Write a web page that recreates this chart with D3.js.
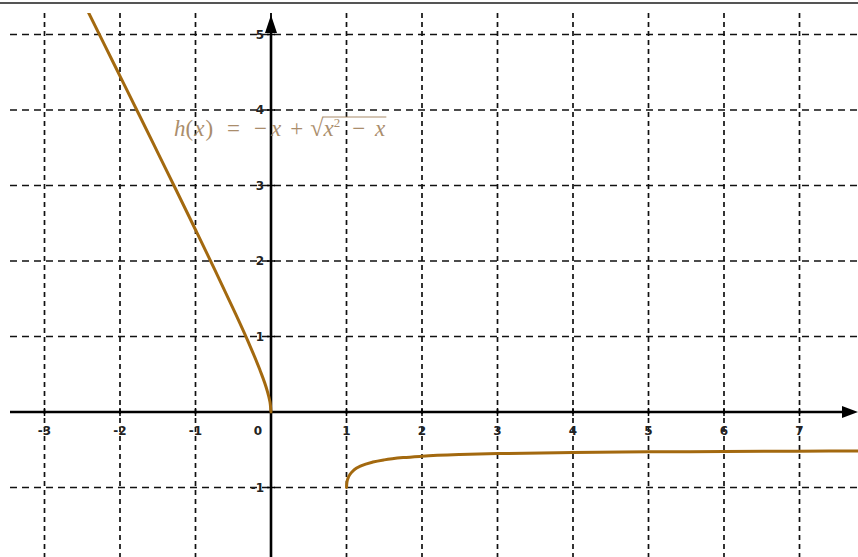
<!DOCTYPE html>
<html>
<head>
<meta charset="utf-8">
<script src="https://cdn.jsdelivr.net/npm/d3@7"></script>
<style>
  body { margin: 0; background: #fff; }
  svg { display: block; }
</style>
</head>
<body>
<div id="plot"></div>
<script>
// tick values
const xTicks = [-3, -2, -1, 0, 1, 2, 3, 4, 5, 6, 7];
const yTicks = [-1, 1, 2, 3, 4, 5];

// left branch of h
const leftX = [-2.45, -2.2, -2, -1.75, -1.5, -1.25, -1, -0.75, -0.5, -0.3, -0.15, -0.05, -0.02, -0.01, 0];
const leftY = [5.357, 4.853, 4.449, 3.944, 3.436, 2.927, 2.414, 1.896, 1.366, 0.925, 0.565, 0.279, 0.163, 0.11, 0];

// right branch
const rightX = [1, 1.005, 1.02, 1.05, 1.1, 1.2, 1.35, 1.5, 1.75, 2, 2.5, 3, 4, 5, 6, 7, 7.8];
const rightY = [-1, -0.934, -0.877, -0.821, -0.768, -0.71, -0.663, -0.634, -0.604, -0.586, -0.564, -0.551, -0.536, -0.528, -0.523, -0.519, -0.517];

const width = 858;
const height = 557;
const view = { left: 10, top: 13 };

const svg = d3.select('#plot')
  .append('svg')
  .attr('width', width)
  .attr('height', height);

// x=0 at 271px, 75.5px per unit
const xScale = d3.scaleLinear().domain([0, 1]).range([271, 346.5]);
const yScale = d3.scaleLinear().domain([0, 1]).range([412, 336.5]);

// top frame line
svg.append('rect')
  .attr('x', 0).attr('y', 2)
  .attr('width', width).attr('height', 2)
  .attr('fill', '#555');

svg.append('defs').append('clipPath').attr('id', 'clip')
  .append('rect')
  .attr('x', view.left).attr('y', view.top)
  .attr('width', width - view.left).attr('height', height - view.top);

const g = svg.append('g').attr('clip-path', 'url(#clip)');

// dashed grid
g.selectAll('.vgrid')
  .data(xTicks.concat([0]))
  .enter()
  .append('line')
  .attr('class', 'vgrid')
  .attr('x1', d => xScale(d)).attr('x2', d => xScale(d))
  .attr('y1', view.top).attr('y2', height)
  .style('stroke', '#111')
  .style('stroke-width', 1.7)
  .style('stroke-dasharray', '5,4');

g.selectAll('.hgrid')
  .data(yTicks.concat([-2]))
  .enter()
  .append('line')
  .attr('class', 'hgrid')
  .attr('x1', view.left).attr('x2', width)
  .attr('y1', d => yScale(d)).attr('y2', d => yScale(d))
  .style('stroke', '#111')
  .style('stroke-width', 1.7)
  .style('stroke-dasharray', '7,5');

// axes
g.append('line')
  .attr('x1', view.left).attr('x2', width - 12)
  .attr('y1', yScale(0)).attr('y2', yScale(0))
  .style('stroke', '#000').style('stroke-width', 2.6);

g.append('line')
  .attr('x1', xScale(0)).attr('x2', xScale(0))
  .attr('y1', height).attr('y2', 30)
  .style('stroke', '#000').style('stroke-width', 2.6);

// arrow heads
g.append('path')
  .attr('d', `M${width},${yScale(0)} L${width - 16},${yScale(0) - 6} L${width - 16},${yScale(0) + 6} Z`)
  .attr('fill', '#000');

g.append('path')
  .attr('d', `M${xScale(0)},15 L${xScale(0) - 6},33 L${xScale(0) + 6},33 Z`)
  .attr('fill', '#000');

// small tick marks on axes
g.selectAll('.xtick')
  .data(xTicks.filter(d => d !== 0))
  .enter()
  .append('line')
  .attr('x1', d => xScale(d)).attr('x2', d => xScale(d))
  .attr('y1', yScale(0) - 4).attr('y2', yScale(0) + 4)
  .style('stroke', '#000').style('stroke-width', 1.5);

g.selectAll('.ytick')
  .data(yTicks)
  .enter()
  .append('line')
  .attr('x1', xScale(0) - 4).attr('x2', xScale(0) + 4)
  .attr('y1', d => yScale(d)).attr('y2', d => yScale(d))
  .style('stroke', '#000').style('stroke-width', 1.5);

// tick labels
g.selectAll('.xlabel')
  .data(xTicks)
  .enter()
  .append('text')
  .attr('x', d => d === 0 ? xScale(0) - 13 : xScale(d))
  .attr('y', yScale(0) + 23)
  .attr('text-anchor', 'middle')
  .text(d => d)
  .style('font-family', 'DejaVu Sans, sans-serif')
  .style('font-size', '12px')
  .style('font-weight', 'bold')
  .style('fill', '#222');

g.selectAll('.ylabel')
  .data(yTicks)
  .enter()
  .append('text')
  .attr('x', xScale(0) - 7)
  .attr('y', d => yScale(d) + 4)
  .attr('text-anchor', 'end')
  .text(d => d)
  .style('font-family', 'DejaVu Sans, sans-serif')
  .style('font-size', '12px')
  .style('font-weight', 'bold')
  .style('fill', '#222');

// curve
const line = d3.line()
  .x(d => xScale(d[0]))
  .y(d => yScale(d[1]))
  .curve(d3.curveMonotoneX);

const branches = [
  d3.zip(leftX, leftY),
  d3.zip(rightX, rightY)
];

g.selectAll('.branch')
  .data(branches)
  .enter()
  .append('path')
  .attr('d', line)
  .style('fill', 'none')
  .style('stroke', '#a3690f')
  .style('stroke-width', 3)
  .style('stroke-linecap', 'round');

// function label: h(x) = −x + √(x² − x)
const lab = svg.append('g')
  .style('fill', '#9c7a52')
  .style('opacity', 0.85);

const baseY = 136;
let cx = 174;
const put = (txt, italic, size, dy) => {
  const t = lab.append('text')
    .attr('x', cx)
    .attr('y', baseY + (dy || 0))
    .style('font-family', 'Liberation Serif, DejaVu Serif, serif')
    .style('font-size', size || '23px')
    .style('font-style', italic ? 'italic' : 'normal')
    .text(txt);
  cx += t.node().getComputedTextLength();
  return t;
};

put('h', true);
put('(', false);
cx += 1;
put('x', true);
cx += 1;
put(')', false);
cx += 14;
put('=', false);
cx += 14;
put('−', false);
cx += 4;
put('x', true);
cx += 9;
put('+', false);
cx += 7;
put('√', false, '24px');
const radStart = cx;
put('x', true);
put('2', false, '13px', -9);
cx += 12;
put('−', false);
cx += 10;
put('x', true);
lab.append('line')
  .attr('x1', radStart - 1).attr('x2', cx + 1)
  .attr('y1', baseY - 19).attr('y2', baseY - 19)
  .style('stroke', '#9c7a52')
  .style('stroke-width', 1.2);
</script>
</body>
</html>
